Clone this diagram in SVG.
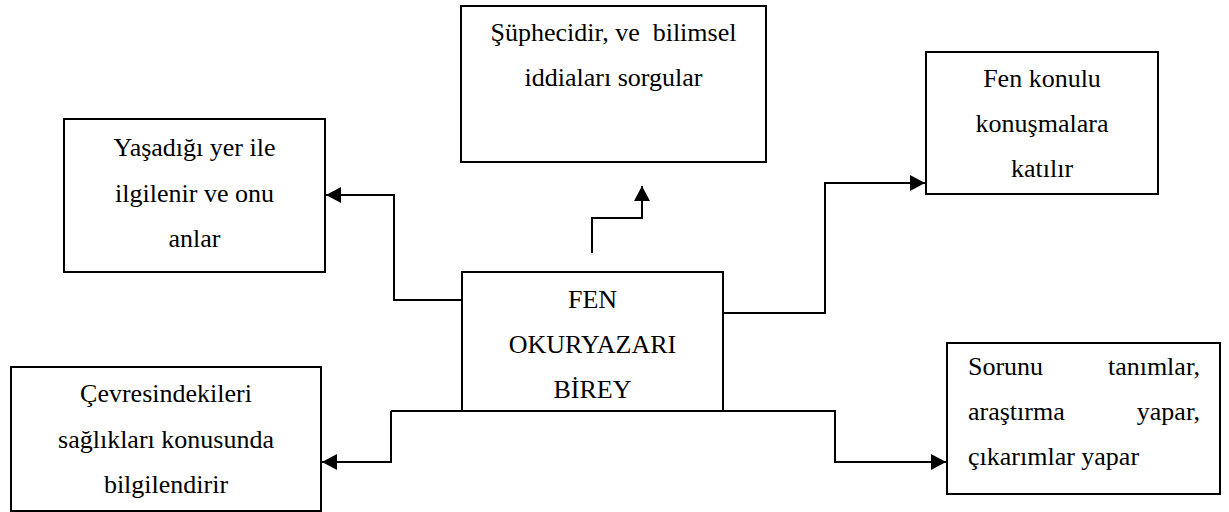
<svg xmlns="http://www.w3.org/2000/svg" width="1229" height="512" viewBox="0 0 1229 512">
<style>
.box{fill:#fff;stroke:#000;stroke-width:2}
text{font-family:'Liberation Serif','DejaVu Serif','Times New Roman',serif;font-size:26px;fill:#000}
.t{text-anchor:middle}
.l{text-anchor:start}
.r{text-anchor:end}
.c{fill:none;stroke:#000;stroke-width:2}
</style>
<defs>
<marker id="ah" markerUnits="userSpaceOnUse" markerWidth="16" markerHeight="16" refX="15" refY="8" orient="auto">
<path d="M0,0 L15,8 L0,16 z" fill="#000"/>
</marker>
</defs>
<rect width="1229" height="512" fill="#fff"/>
<g id="connectors">
<path class="c" d="M592,253 V218 H642 V186" marker-end="url(#ah)"/>
<path class="c" d="M462,300 H394 V195 H326" marker-end="url(#ah)"/>
<path class="c" d="M723,313 H825 V183 H925" marker-end="url(#ah)"/>
<path class="c" d="M391,411 V462 H322" marker-end="url(#ah)"/>
<path class="c" d="M391,411 H835 V462 H946" marker-end="url(#ah)"/>
</g>
<g id="top">
<rect class="box" x="461" y="6" width="305" height="156"/>
<text class="t" x="613.5" y="41" xml:space="preserve">Şüphecidir, ve  bilimsel</text>
<text class="t" x="613.5" y="86">iddiaları sorgular</text>
</g>
<g id="left">
<rect class="box" x="64" y="119" width="261" height="153"/>
<text class="t" x="194.5" y="156">Yaşadığı yer ile</text>
<text class="t" x="194.5" y="202">ilgilenir ve onu</text>
<text class="t" x="194.5" y="247">anlar</text>
</g>
<g id="center">
<rect class="box" x="462" y="272" width="261" height="139"/>
<text class="t" x="592.5" y="308">FEN</text>
<text class="t" x="592.5" y="353">OKURYAZARI</text>
<text class="t" x="592.5" y="398">BİREY</text>
</g>
<g id="right">
<rect class="box" x="926" y="52" width="232" height="142"/>
<text class="t" x="1042" y="87">Fen konulu</text>
<text class="t" x="1042" y="132">konuşmalara</text>
<text class="t" x="1042" y="177">katılır</text>
</g>
<g id="bottomleft">
<rect class="box" x="11" y="367" width="310" height="144"/>
<text class="t" x="166" y="402">Çevresindekileri</text>
<text class="t" x="166" y="448">sağlıkları konusunda</text>
<text class="t" x="166" y="493">bilgilendirir</text>
</g>
<g id="bottomright">
<rect class="box" x="947" y="343" width="273" height="151"/>
<text class="l" x="968" y="375">Sorunu</text>
<text class="r" x="1200" y="375">tanımlar,</text>
<text class="l" x="968" y="420">araştırma</text>
<text class="r" x="1200" y="420">yapar,</text>
<text class="l" x="968" y="465">çıkarımlar yapar</text>
</g>
</svg>
